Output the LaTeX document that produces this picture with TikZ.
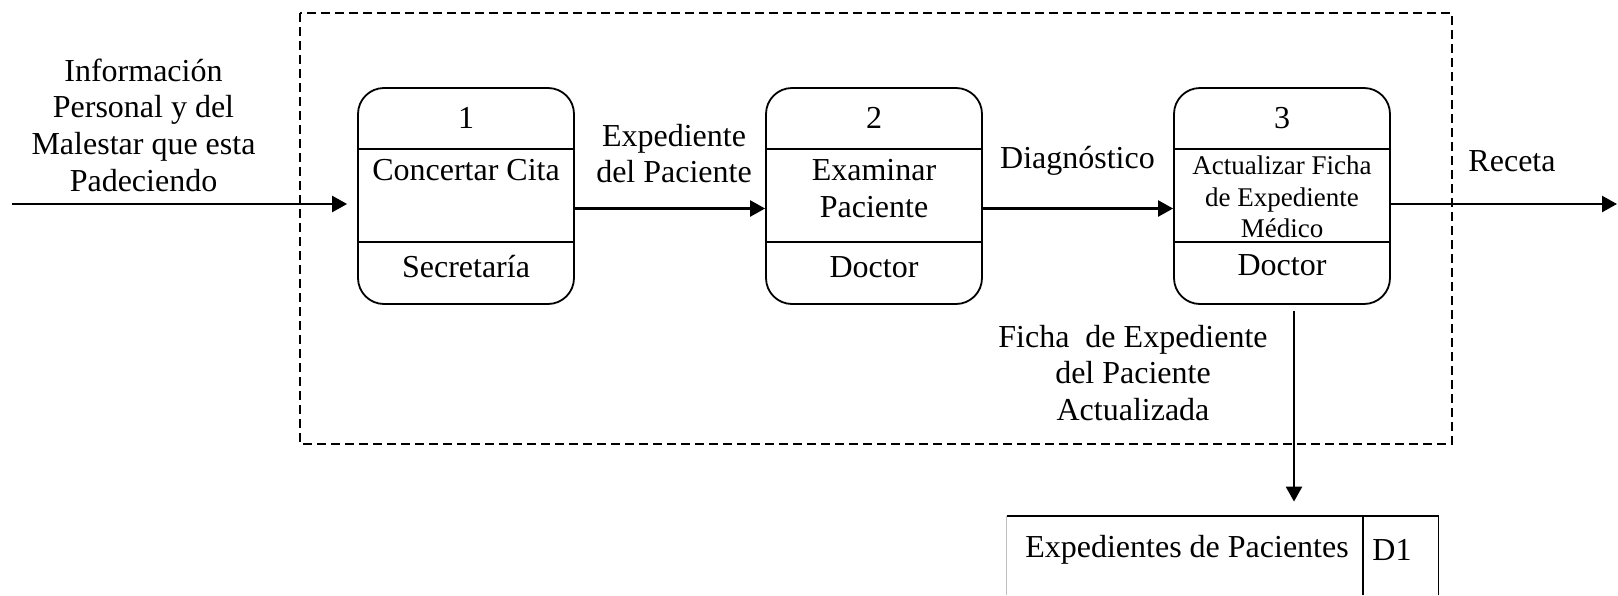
\documentclass[tikz,border=0pt]{standalone}
\usepackage{fontspec}
\setmainfont{Liberation Serif}
\usetikzlibrary{arrows.meta,calc}

\tikzset{
  proc/.style={draw,line width=0.9pt,rounded corners=13pt,minimum width=108pt,minimum height=108pt,inner sep=0pt},
  flow/.style={line width=1.2pt,-{Triangle[length=7.5pt,width=8pt]}},
  boundary/.style={dash pattern=on 4.5pt off 2.5pt,line width=0.6pt},
  lbl/.style={align=center,inner sep=0pt,font=\fontsize{16}{18.35}\selectfont},
  small/.style={align=center,inner sep=0pt,font=\fontsize{13.5}{15.75}\selectfont},
}

\begin{document}
\begin{tikzpicture}[x=0.5pt,y=0.5pt,yscale=-1]
\useasboundingbox (0,0) rectangle (1618,595);

%Shape: Dashed boundary
\draw[boundary] (300,13) rectangle (1452,444);

%Shape: Process 1
\node[proc] (p1) at (466,196) {};
\draw[line width=0.9pt] ($(p1.north west)+(0,62)$) -- ($(p1.north east)+(0,62)$);
\draw[line width=0.9pt] ($(p1.north west)+(0,154.5)$) -- ($(p1.north east)+(0,154.5)$);
%Shape: Process 2
\node[proc] (p2) at (874,196) {};
\draw[line width=0.9pt] ($(p2.north west)+(0,62)$) -- ($(p2.north east)+(0,62)$);
\draw[line width=0.9pt] ($(p2.north west)+(0,154.5)$) -- ($(p2.north east)+(0,154.5)$);
%Shape: Process 3
\node[proc] (p3) at (1282,196) {};
\draw[line width=0.9pt] ($(p3.north west)+(0,62)$) -- ($(p3.north east)+(0,62)$);
\draw[line width=0.9pt] ($(p3.north west)+(0,154.5)$) -- ($(p3.north east)+(0,154.5)$);

%Shape: Data store
\node[minimum width=215.5pt,minimum height=39.5pt,inner sep=0pt] (d1) at (1222.5,555.5) {};
\draw[line width=0.9pt] (d1.south east) -- (d1.north east) -- (d1.north west);
\draw[gray!50,line width=0.6pt] (d1.north west) -- (d1.south west);
\draw[line width=0.9pt] ($(d1.north east)+(-75.5,0)$) -- ($(d1.south east)+(-75.5,0)$);

%Straight Lines
\coordinate (src) at (12,204);
\draw[flow,shorten >=5pt] (src) -- (src -| p1.west);
\draw[flow] ($(p1.east)+(0,12.5)$) -- ($(p2.west)+(0,12.5)$);
\draw[flow] ($(p2.east)+(0,12.5)$) -- ($(p3.west)+(0,12.5)$);
\coordinate (sink) at (1617,204);
\draw[flow] (sink -| p3.east) -- (sink);
\coordinate (dn) at (1294,311);
\draw[flow] (dn) -- ($(dn |- d1.north)+(0,-14)$);

% Text Node
\node[lbl] (n1) at (466,118) {1};
\node[lbl] (t1) at (466,170) {Concertar Cita};
\node[lbl] (a1) at (466,267) {Secretaría};
% Text Node
\node[lbl] (n2) at (874,118) {2};
\node[lbl] (t2) at (874,188.5) {Examinar\\Paciente};
\node[lbl] (a2) at (874,267) {Doctor};
% Text Node
\node[lbl] (n3) at (1282,118) {3};
\node[small] (t3) at (1282,197) {Actualizar Ficha\\de Expediente\\Médico};
\node[lbl] (a3) at (1282,265) {Doctor};
% Text Node
\node[lbl] (d1name) at (1187,550) {Expedientes de Pacientes};
\node[lbl] (d1id) at (1392,550) {D1};
% Text Node
\node[lbl] (lsrc) at (143.5,125) {Información\\Personal y del\\Malestar que esta\\Padeciendo};
\node[lbl] (l12) at (674,153.5) {Expediente\\del Paciente};
\node[lbl] (l23) at (1077.5,161) {Diagnóstico};
\node[lbl] (lsink) at (1512,161) {Receta};
\node[lbl] (lstore) at (1133,373) {Ficha\ \ de Expediente\\del Paciente\\Actualizada};

\end{tikzpicture}
\end{document}
